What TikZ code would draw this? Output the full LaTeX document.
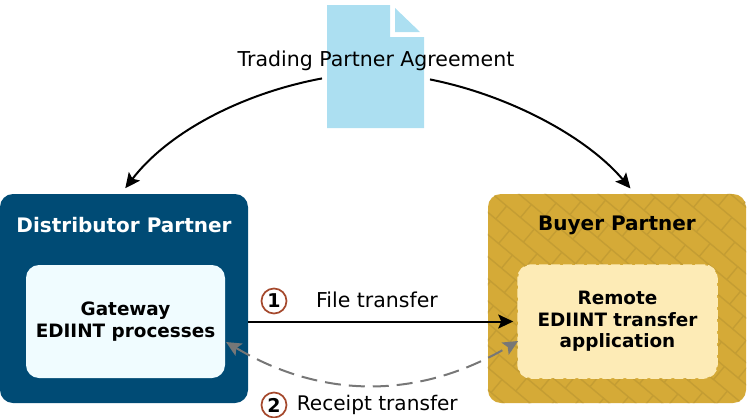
\documentclass[tikz,border=0pt]{standalone}
\usepackage{fontspec}
\setmainfont{DejaVu Sans}
\usepackage{xcolor}
\usetikzlibrary{calc,positioning,arrows.meta}
\definecolor{distblue}{HTML}{004B75}
\definecolor{gatewaybg}{HTML}{F0FCFF}
\definecolor{buyergold}{HTML}{D5AA37}
\definecolor{brickline}{HTML}{C49D33}
\definecolor{remotebg}{HTML}{FDEBB6}
\definecolor{docblue}{HTML}{ACDFF1}
\definecolor{stepred}{HTML}{A5492D}
\definecolor{receiptgray}{HTML}{777777}
\tikzset{%
	partner/.style  = {rectangle, rounded corners=13pt, minimum height=209pt, inner sep=0pt},
	inner/.style    = {rectangle, rounded corners=13pt, minimum width=199pt, minimum height=113pt, inner sep=0pt, align=center, font=\bfseries\fontsize{18.4}{21.5}\selectfont},
	heading/.style  = {font=\bfseries\fontsize{20}{24}\selectfont},
	plain/.style    = {font=\fontsize{20.5}{24}\selectfont},
	stepmark/.style = {circle, draw=stepred, line width=1.7pt, minimum size=25pt, inner sep=0pt, font=\bfseries\fontsize{19}{20}\selectfont},
	arrow/.style    = {line width=2pt, -{Stealth[length=15pt,width=14pt,inset=3pt]}},
	receipt/.style  = {line width=2pt, receiptgray, dash pattern=on 16pt off 8pt, {Stealth[length=15pt,width=14pt,inset=3pt]}-{Stealth[length=15pt,width=14pt,inset=3pt]}},
}
\begin{document}
\begin{tikzpicture}[x=1pt,y=-1pt]
	\useasboundingbox (0,0) rectangle (756,418);
	
	% agreement sheet
	\fill[docblue] (327,5) -- (390,5) -- (390,37) -- (424,37) -- (424,128) -- (327,128) -- cycle;
	\fill[docblue] (395,8) -- (420,32) -- (395,32) -- cycle;
	\node[plain] (agreement) at (376,61) {Trading Partner Agreement};
	
	% partners
	\node[partner,fill=distblue,minimum width=248pt] (distributor) at (124,298.5) {};
	\node[partner,fill=buyergold,minimum width=258pt] (buyer) at (617,298.5) {};
	\begin{scope}
		\clip[rounded corners=13pt] (buyer.north west) rectangle (buyer.south east);
		\foreach \r in {-16,...,16}{
			\draw[brickline,line width=1.4pt,xshift=617pt,yshift=-298.5pt,rotate=-40] (-260,\r*17) -- (260,\r*17);
			\foreach \c in {-10,...,10}
				\draw[brickline,line width=1.4pt,xshift=617pt,yshift=-298.5pt,rotate=-40] ({\c*36+mod(\r+16,2)*18},\r*17) -- ++(0,17);
		}
	\end{scope}
	\node[heading,text=white] (distlabel) at (124,225) {Distributor Partner};
	\node[heading] (buyerlabel) at (617,225) {Buyer Partner};
	\node[inner,fill=gatewaybg] (gateway) at (125.5,321.5) {Gateway\\EDIINT processes};
	\node[inner,fill=remotebg,draw=remotebg,line width=1.5pt,dash pattern=on 9pt off 3pt] (remote) at (617.5,321.5) {Remote\\EDIINT transfer\\application};
	
	% transfers
	\draw[arrow,shorten >=4pt] (gateway.east -| distributor.east) -- (remote.west);
	\draw[receipt,shorten <=1pt,shorten >=-1pt] ($(gateway.east)+(0,20)$) .. controls ($(gateway.east)+(98,78)$) and ($(remote.west)+(-98,78)$) .. ($(remote.west)+(0,20)$);
	\node[stepmark] (one) at (274,301) {1};
	\node[plain] (filetransfer) at (377,300) {File transfer};
	\node[stepmark] (two) at (274,405) {2};
	\node[plain,right=6pt of two,font=\fontsize{20.1}{24}\selectfont] (receipttransfer) {Receipt transfer};
	
	% agreement arrows
	\draw[arrow,shorten >=7pt] ($(agreement.south)+(-54,4)$) .. controls ($(agreement.south)+(-130,18)$) and (170,130) .. ($(distributor.north)+(-3,0)$);
	\draw[arrow,shorten >=7pt] ($(agreement.south)+(54,5)$) .. controls ($(agreement.south)+(130,20)$) and (585,135) .. ($(buyer.north)+(18,0)$);
\end{tikzpicture}
\end{document}
